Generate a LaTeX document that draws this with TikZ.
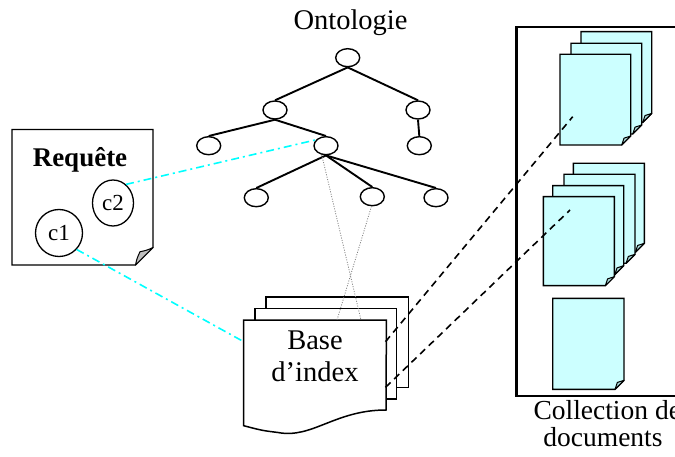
\documentclass[tikz,border=0pt]{standalone}
\usepackage{fontspec}
\setmainfont{Liberation Serif}
\usetikzlibrary{shapes.geometric,calc}
\definecolor{pagecyan}{RGB}{204,255,255}
\definecolor{flapcyan}{RGB}{170,215,215}
\definecolor{aqua}{RGB}{0,255,255}
\newcommand\FoldPg[7]{%
  \filldraw[fill=#5,line width=1.4pt,line join=miter] (#1,#2) -- (#3,#2) -- (#3,#4-#7) -- (#3-#7,#4) -- (#1,#4) -- cycle;
  \filldraw[fill=#6,line width=1pt,line join=round] (#3-#7,#4) to[bend left=8] (#3-0.74*#7,#4-0.76*#7) to[bend right=8] (#3,#4-#7) -- cycle;
}
\newcommand\PlainPg[4]{%
  \filldraw[fill=white,line width=1.5pt] (#1,#2) rectangle (#3,#4);
}
\begin{document}
\begin{tikzpicture}[x=1pt,y=-1pt,
  tnode/.style={draw,ellipse,line width=1.4pt,minimum width=24pt,minimum height=18pt,inner sep=0pt},
  tedge/.style={line width=1.9pt},
  big/.style={font=\fontsize{28.5}{33}\selectfont},
  coltext/.style={font=\fontsize{27.5}{33}\selectfont},
  cyanlink/.style={aqua,line width=1.6pt,dash pattern=on 8pt off 4pt on 2pt off 4pt},
  blacklink/.style={black,line width=1.6pt,dash pattern=on 7pt off 5pt},
  dotlink/.style={gray,line width=0.8pt,dash pattern=on 1pt off 1.5pt}]
\clip (0,0) rectangle (675,457);
\fill[white] (0,0) rectangle (675,457);

% Ontologie
\node[big,anchor=base] (onto) at (350.5,30) {Ontologie};
\node[tnode] (r) at (347.7,57.7) {};
\node[tnode] (a) at (275,110) {};
\node[tnode] (b) at (418,110) {};
\node[tnode] (c) at (208.7,145.7) {};
\node[tnode] (m) at (326,145.7) {};
\node[tnode] (d) at (419.3,145.7) {};
\node[tnode] (e) at (256.3,197.7) {};
\node[tnode] (g) at (372.3,196.7) {};
\node[tnode] (h) at (436,197.7) {};
\draw[tedge] (r.south) -- (a.north);
\draw[tedge] (r.south) -- (b.north);
\draw[tedge] (a.south) -- (c.north);
\draw[tedge] (a.south) -- (m.north);
\draw[tedge] (b.south) -- (d.north);
\draw[tedge] (m.south) -- (e.north);
\draw[tedge] (m.south) -- (g.north);
\draw[tedge] (m.south) -- (h.north);

% Requete
\FoldPg{12}{129.5}{153}{265}{white}{lightgray}{17.5}
\node[font=\bfseries\fontsize{27}{32}\selectfont,anchor=base] (req) at (80,166.7) {Requête};
\node[draw,circle,line width=1.3pt,minimum size=47pt,inner sep=0pt,font=\fontsize{23}{28}\selectfont] (c1) at (59,233) {c1};
\node[draw,ellipse,line width=1.3pt,minimum width=41pt,minimum height=46pt,inner sep=0pt,font=\fontsize{23}{28}\selectfont] (c2) at (113,203) {c2};

% Base d'index
\PlainPg{266}{297}{408.3}{387.3}
\PlainPg{255}{308.7}{396.7}{399}
\node[minimum width=142.3pt,minimum height=90pt,inner sep=0pt,anchor=north west] (base) at (243.7,320) {};
\filldraw[fill=white,line width=1.5pt] (base.north west) -- (base.north east) -- (386,410)
  .. controls (335,410) and (312,439) .. (278,432.5)
  .. controls (262,430.5) .. (243.7,425.7) -- cycle;
\node[big,anchor=base] (t1) at (315,349) {Base};
\node[big,anchor=base] (t2) at (315,381.7) {d’index};
\coordinate (baseL) at (243.7,341.7);
\coordinate (baseR1) at (385.5,341.7);
\coordinate (baseR2) at (385.5,387.3);
\coordinate (baseT1) at (337,320);
\coordinate (baseT2) at (361,320);

% Collection
\node[draw,line width=2.2pt,minimum width=180pt,minimum height=369pt,inner sep=0pt,anchor=north west] (coll) at (515.3,26) {};
\FoldPg{581}{31.7}{651.7}{122.4}{pagecyan}{flapcyan}{9}
\FoldPg{571}{43.3}{641.7}{134}{pagecyan}{flapcyan}{9}
\FoldPg{560}{54.3}{630.7}{145}{pagecyan}{flapcyan}{9}
\FoldPg{573.3}{163.3}{644.3}{252.3}{pagecyan}{flapcyan}{9}
\FoldPg{564}{174.3}{635}{263.3}{pagecyan}{flapcyan}{9}
\FoldPg{552.7}{185.7}{623.7}{274.7}{pagecyan}{flapcyan}{9}
\FoldPg{543.3}{196.7}{614.3}{285.7}{pagecyan}{flapcyan}{9}
\FoldPg{552.7}{298.3}{624}{389.3}{pagecyan}{flapcyan}{9}
\coordinate (doc1) at (572.7,116.7);
\coordinate (doc2) at (570,210);
\node[coltext,anchor=base west] (col1) at (530,419) {Collection de};
\node[coltext,anchor=base] (col2) at (603,446.7) {documents};

% links
\draw[cyanlink] (c2.55) -- (m.150);
\draw[cyanlink] (c1.-43) -- (baseL);
\draw[dotlink] (m.-115) -- (baseT2);
\draw[dotlink] (g.-95) -- (baseT1);
\draw[blacklink] (baseR1) -- (doc1);
\draw[blacklink] (baseR2) -- (doc2);
\end{tikzpicture}
\end{document}
